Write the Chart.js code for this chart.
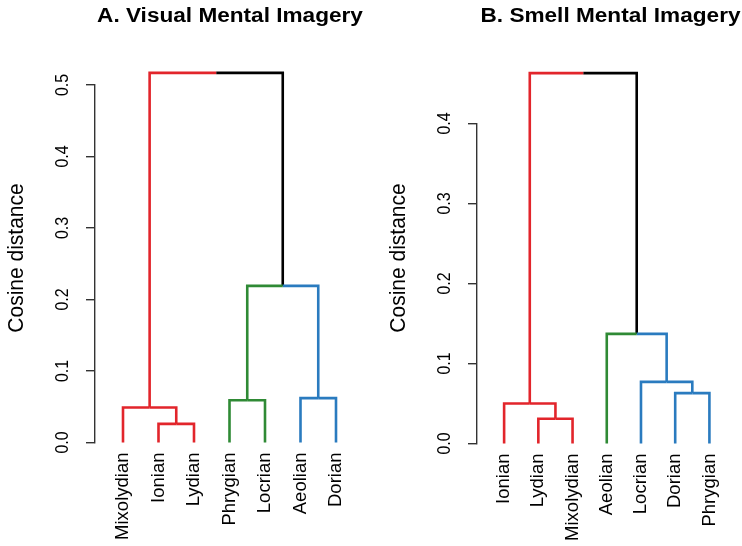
<!DOCTYPE html>
<html>
<head>
<meta charset="utf-8">
<script src="https://cdn.jsdelivr.net/npm/chart.js@4.4.1/dist/chart.umd.min.js"></script>
<style>
  html, body { margin: 0; padding: 0; background: #ffffff; overflow: hidden; }
  #wrap { position: relative; width: 742px; height: 546px; }
  .panel { position: absolute; top: 0; width: 371px; height: 546px; }
</style>
</head>
<body>
<div id="wrap">
  <div class="panel" style="left:0"><canvas id="visual" width="371" height="546"></canvas></div>
  <div class="panel" style="left:371px"><canvas id="smell" width="371" height="546"></canvas></div>
</div>
<script>
// ---- Panel A: visual imagery clustering ----
const visualTitle = "A. Visual Mental Imagery";
const visualLeaves = ["Mixolydian", "Ionian", "Lydian", "Phrygian", "Locrian", "Aeolian", "Dorian"];
const visualGroups = ["red", "red", "red", "green", "green", "blue", "blue"];
// merge steps: negative = leaf number (1-based), positive = earlier merge step
const visualMerges = [[-2, -3], [-1, 1], [-4, -5], [-6, -7], [3, 4], [2, 5]];
const visualHeights = [0.026, 0.049, 0.059, 0.062, 0.219, 0.517];
const visualTicks = [0, 0.1, 0.2, 0.3, 0.4, 0.5];

// ---- Panel B: smell imagery clustering ----
const smellTitle = "B. Smell Mental Imagery";
const smellLeaves = ["Ionian", "Lydian", "Mixolydian", "Aeolian", "Locrian", "Dorian", "Phrygian"];
const smellGroups = ["red", "red", "red", "green", "blue", "blue", "blue"];
const smellMerges = [[-2, -3], [-1, 1], [-6, -7], [-5, 3], [-4, 4], [2, 5]];
const smellHeights = [0.031, 0.050, 0.063, 0.077, 0.137, 0.463];
const smellTicks = [0, 0.1, 0.2, 0.3, 0.4];

const yTitle = "Cosine distance";

const palette = { red: "#e2252b", green: "#2f8a35", blue: "#2a7bbf", mixed: "#000000" };
const FONT = '"Liberation Sans", Arial, Helvetica, sans-serif';

// Build one polyline per branch: up from the child, then across to the parent.
function branchDatasets(leaves, groups, merges, heights) {
  const nodeOf = (ref, nodes) => ref < 0
    ? { x: -ref, h: 0, g: groups[-ref - 1] }
    : nodes[ref - 1];
  const nodes = [];
  const sets = [];
  merges.forEach((pair, k) => {
    const a = nodeOf(pair[0], nodes), b = nodeOf(pair[1], nodes);
    const node = { x: (a.x + b.x) / 2, h: heights[k], g: a.g === b.g ? a.g : "mixed" };
    [a, b].forEach(c => {
      sets.push({
        data: [{ x: c.x, y: c.h }, { x: c.x, y: node.h }, { x: node.x, y: node.h }],
        borderColor: palette[c.g],
        borderWidth: 2.6,
        borderJoinStyle: "miter",
        borderCapStyle: "butt",
        pointRadius: 0,
        tension: 0,
        fill: false,
        clip: false
      });
    });
    nodes.push(node);
  });
  return sets;
}

// Titles, rotated axis title and rotated y tick labels
const panelText = {
  id: "panelText",
  afterDraw(chart, args, o) {
    const ctx = chart.ctx;
    const ys = chart.scales.y;
    const left = chart.chartArea.left;
    ctx.save();
    ctx.fillStyle = "#000";

    ctx.save();
    ctx.font = "bold 20px " + FONT;
    ctx.textAlign = "center";
    ctx.textBaseline = "alphabetic";
    ctx.translate(o.titleX, 21.7);
    ctx.scale(1.13, 1);
    ctx.fillText(o.title, 0, 0);
    ctx.restore();

    ctx.save();
    ctx.font = "21px " + FONT;
    ctx.textAlign = "center";
    ctx.textBaseline = "middle";
    ctx.translate(left - o.yTitleGap, 258);
    ctx.scale(1.08, 1);
    ctx.rotate(-Math.PI / 2);
    ctx.fillText(yTitle, 0, 0);
    ctx.restore();

    ctx.font = "16px " + FONT;
    ctx.textAlign = "center";
    ctx.textBaseline = "middle";
    o.ticks.forEach(v => {
      ctx.save();
      ctx.translate(left - 32.5, ys.getPixelForValue(v));
      ctx.scale(1.15, 1);
      ctx.rotate(-Math.PI / 2);
      ctx.fillText(v.toFixed(1), 0, 0);
      ctx.restore();
    });
    ctx.restore();
  }
};

function makeDendrogram(id, p) {
  const canvasW = 371, canvasH = 546, padRight = 5;
  const areaW = canvasW - p.axisW - padRight;
  const xMin = 1 - p.leafInset / p.spacing;
  const xMax = xMin + areaW / p.spacing;
  return new Chart(document.getElementById(id), {
    type: "line",
    data: { datasets: branchDatasets(p.leaves, p.groups, p.merges, p.heights) },
    options: {
      responsive: false,
      animation: false,
      parsing: true,
      layout: { padding: { top: p.top, right: padRight, bottom: 0, left: 0 } },
      plugins: {
        legend: { display: false },
        tooltip: { enabled: false },
        title: { display: false },
        panelText: { title: p.title, titleX: p.titleX, ticks: p.ticks, yTitleGap: p.yTitleGap }
      },
      scales: {
        x: {
          type: "linear",
          min: xMin,
          max: xMax,
          afterBuildTicks: s => { s.ticks = p.leaves.map((_, i) => ({ value: i + 1 })); },
          afterFit: s => { s.height = canvasH - p.bottom; },
          grid: { display: false, drawTicks: false },
          border: { display: false },
          ticks: {
            autoSkip: false,
            minRotation: 90,
            maxRotation: 90,
            padding: 10,
            color: "#000",
            font: { family: FONT, size: 18.5 },
            callback: v => p.leaves[Math.round(v) - 1]
          }
        },
        y: {
          type: "linear",
          min: 0,
          max: p.ticks[p.ticks.length - 1],
          afterBuildTicks: s => { s.ticks = p.ticks.map(v => ({ value: v })); },
          afterFit: s => { s.width = p.axisW; },
          grid: { display: true, drawOnChartArea: false, drawTicks: true, tickLength: 9, color: "#333", lineWidth: 1.4 },
          border: { display: true, color: "#333", width: 1.4 },
          ticks: { display: false }
        }
      }
    },
    plugins: [panelText]
  });
}

makeDendrogram("visual", {
  title: visualTitle, titleX: 230, leaves: visualLeaves, groups: visualGroups,
  merges: visualMerges, heights: visualHeights, ticks: visualTicks,
  axisW: 95, top: 85, bottom: 442.5, leafInset: 28, spacing: 35.5, yTitleGap: 78.5
});

makeDendrogram("smell", {
  title: smellTitle, titleX: 239.5, leaves: smellLeaves, groups: smellGroups,
  merges: smellMerges, heights: smellHeights, ticks: smellTicks,
  axisW: 106, top: 123.5, bottom: 443.5, leafInset: 28, spacing: 35.33, yTitleGap: 78
});
</script>
</body>
</html>
